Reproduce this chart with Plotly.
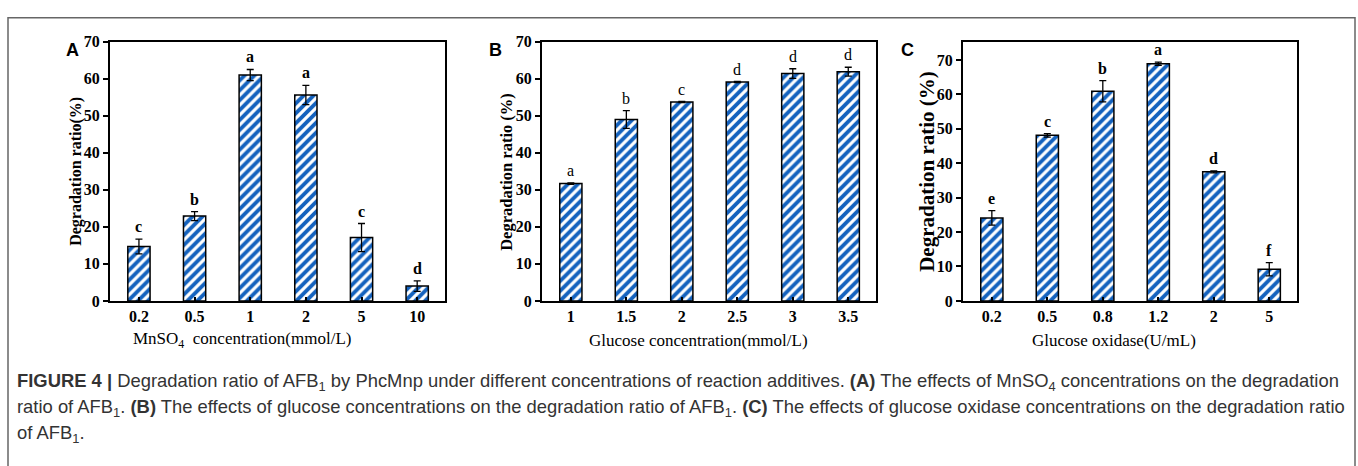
import plotly.graph_objects as go

W, H = 1358, 466

# ---------------- data ----------------
cats_a = ["0.2", "0.5", "1", "2", "5", "10"]
vals_a = [14.7, 22.9, 61.0, 55.6, 17.1, 4.0]
errs_a = [2.0, 1.2, 1.5, 2.6, 3.8, 1.4]
lets_a = ["c", "b", "a", "a", "c", "d"]

cats_b = ["1", "1.5", "2", "2.5", "3", "3.5"]
vals_b = [31.7, 49.0, 53.7, 59.1, 61.4, 61.9]
errs_b = [0.2, 2.4, 0.15, 0.15, 1.3, 1.2]
lets_b = ["a", "b", "c", "d", "d", "d"]

cats_c = ["0.2", "0.5", "0.8", "1.2", "2", "5"]
vals_c = [24.1, 48.1, 60.9, 68.9, 37.5, 9.2]
errs_c = [2.1, 0.5, 3.1, 0.5, 0.3, 1.9]
lets_c = ["e", "c", "b", "a", "d", "f"]

SERIF = "Liberation Serif"
SANS = "Liberation Sans"
BLUE = "#1462be"

def px_x(p):
    return p / W

def px_y(p):
    return 1 - p / H

panels = [
    dict(cats=cats_a, vals=vals_a, errs=errs_a, lets=lets_a, x0=110, x1=445, ymax=70,
         bold_letters=True, ytitle="<b>Degradation ratio(%)</b>", ytsize=16, ytx=76,
         xtitle="MnSO<sub>4</sub>  concentration(mmol/L)", xtx=242, label="A", lx=72),
    dict(cats=cats_b, vals=vals_b, errs=errs_b, lets=lets_b, x0=542, x1=876, ymax=70,
         bold_letters=False, ytitle="<b>Degradation ratio (%)</b>", ytsize=16.5, ytx=507,
         xtitle="Glucose concentration(mmol/L)", xtx=699, label="B", lx=495),
    dict(cats=cats_c, vals=vals_c, errs=errs_c, lets=lets_c, x0=963, x1=1297, ymax=75.3,
         bold_letters=True, ytitle="<b>Degradation ratio (%)</b>", ytsize=21, ytx=927,
         xtitle="Glucose oxidase(U/mL)", xtx=1114, label="C", lx=907),
]

fig = go.Figure()
annotations = []
TOP, BOT = 35, 304

for i, p in enumerate(panels):
    n = "" if i == 0 else str(i + 1)
    xa = "x" + n
    ya = "y" + n
    idx = list(range(len(p["cats"])))
    fig.add_trace(go.Bar(
        x=idx, y=p["vals"], xaxis=xa, yaxis=ya, width=0.4,
        marker=dict(color="white", line=dict(color="black", width=1.5),
                    pattern=dict(shape="/", fgcolor=BLUE, fgopacity=1, bgcolor="white",
                                 size=7, solidity=0.55)),
        error_y=dict(type="data", array=p["errs"], color="black", thickness=1.3, width=3.5),
        showlegend=False,
    ))
    for k, (v, e, l) in enumerate(zip(p["vals"], p["errs"], p["lets"])):
        txt = "<b>%s</b>" % l if p["bold_letters"] else l
        annotations.append(dict(x=k, y=v + e, xref=xa, yref=ya, text=txt, showarrow=False,
                                yanchor="bottom", yshift=2,
                                font=dict(family=SERIF, size=16, color="black")))
    axis_common = dict(showline=True, linecolor="black", linewidth=2, mirror=True,
                       showgrid=False, zeroline=False,
                       tickfont=dict(family=SERIF, size=16, color="black"))
    fig.update_layout(**{
        ("xaxis" + n): dict(axis_common, domain=[px_x(p["x0"]), px_x(p["x1"])], anchor=ya,
                            range=[-0.52, 5.5], ticks="inside", ticklen=4,
                            tickwidth=1.5, tickcolor="black",
                            tickvals=idx, ticktext=["<b>%s</b>" % c for c in p["cats"]]),
        ("yaxis" + n): dict(axis_common, domain=[px_y(BOT), px_y(TOP)], anchor=xa,
                            range=[0, p["ymax"]], tickvals=[0, 10, 20, 30, 40, 50, 60, 70],
                            ticktext=["<b>%d</b>" % t for t in range(0, 80, 10)],
                            ticks="outside", ticklen=5, tickwidth=1.5, tickcolor="black"),
    })
    annotations.append(dict(x=px_x(p["ytx"]), y=px_y(170), xref="paper", yref="paper",
                            text=p["ytitle"], textangle=-90, showarrow=False,
                            xanchor="center", yanchor="middle",
                            font=dict(family=SERIF, size=p["ytsize"], color="black")))
    annotations.append(dict(x=px_x(p["xtx"]), y=px_y(345), xref="paper", yref="paper",
                            text=p["xtitle"], showarrow=False, xanchor="center", yanchor="middle",
                            font=dict(family=SERIF, size=17, color="black")))
    annotations.append(dict(x=px_x(p["lx"]), y=px_y(44), xref="paper", yref="paper",
                            text="<b>%s</b>" % p["label"], showarrow=False,
                            xanchor="center", yanchor="middle",
                            font=dict(family=SANS, size=18, color="black")))

caption_lines = [
    "<b>FIGURE 4 |</b> Degradation ratio of AFB<sub>1</sub> by PhcMnp under different concentrations of reaction additives. "
    "<b>(A)</b> The effects of MnSO<sub>4</sub> concentrations on the degradation",
    "ratio of AFB<sub>1</sub>. <b>(B)</b> The effects of glucose concentrations on the degradation ratio of AFB<sub>1</sub>. "
    "<b>(C)</b> The effects of glucose oxidase concentrations on the degradation ratio",
    "of AFB<sub>1</sub>.",
]
caption_y = [388, 415, 442]
for t, yy in zip(caption_lines, caption_y):
    annotations.append(dict(x=px_x(15), y=px_y(yy), xref="paper", yref="paper", text=t,
                            showarrow=False, xanchor="left", yanchor="middle",
                            font=dict(family=SANS, size=18.4, color="#333333")))

fig.update_layout(
    width=W, height=H, margin=dict(l=0, r=0, t=0, b=0),
    paper_bgcolor="white", plot_bgcolor="white",
    annotations=annotations,
    shapes=[dict(type="rect", xref="paper", yref="paper",
                 x0=px_x(8), x1=px_x(1355), y0=-0.2, y1=px_y(10),
                 line=dict(color="#666666", width=1.5))],
)

fig.write_html("out.html")
